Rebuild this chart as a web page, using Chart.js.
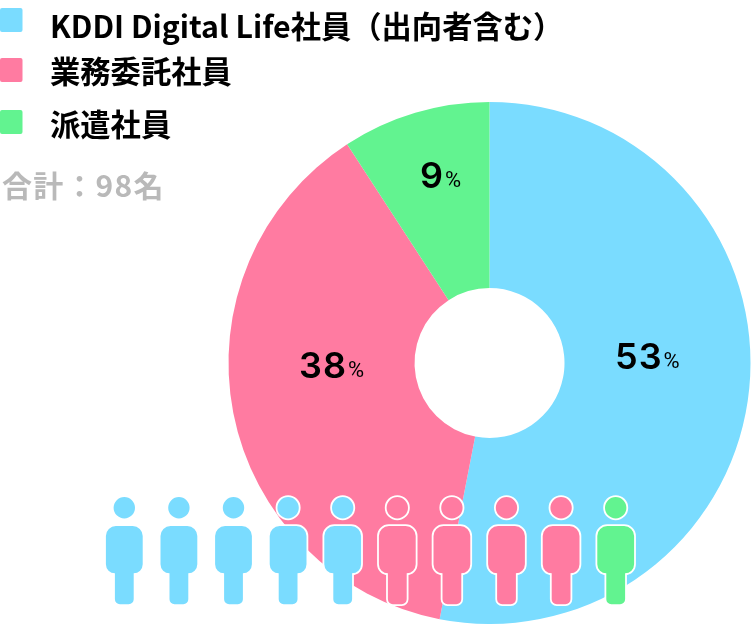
<!DOCTYPE html>
<html lang="ja">
<head>
<meta charset="utf-8">
<title>社員構成</title>
<script src="https://cdn.jsdelivr.net/npm/chart.js@4"></script>
<style>
    html, body { margin: 0; padding: 0; background: #fff; }
    #wrap { width: 751px; height: 624px; position: relative; overflow: hidden; }
</style>
</head>
<body>
<div id="wrap"><canvas id="chart" width="751" height="624"></canvas></div>
<script>
const categories = ['KDDI Digital Life社員（出向者含む）', '業務委託社員', '派遣社員'];
const headcounts = [52, 37, 9];
const percentLabels = ['53', '38', '9'];
const peopleCounts = [5, 4, 1];
const totalLabel = '合計：98名';

const colors = ['#7adcff', '#ff7ba1', '#62f390'];
const jpFont = '"Noto Sans CJK JP", "Noto Sans", sans-serif';

// where things sit on the canvas
const legendRows = [{ box: 8, text: 26 }, { box: 58, text: 71 }, { box: 110, text: 124 }];
const labelAnchors = [{ x: 615, y: 358 }, { x: 299, y: 367 }, { x: 420, y: 177 }];

// one person icon, head + body with leg
function personPath(x) {
    const p = new Path2D();
    p.arc(x, 507.7, 10.7, 0, Math.PI * 2);
    p.closePath();
    p.moveTo(x - 8, 526);
    p.lineTo(x + 8, 526);
    p.arcTo(x + 18.4, 526, x + 18.4, 536, 10);
    p.lineTo(x + 18.4, 564);
    p.arcTo(x + 18.4, 573.3, x + 9.4, 573.3, 9);
    p.lineTo(x + 9.4, 599);
    p.arcTo(x + 9.4, 604.3, x + 4, 604.3, 5);
    p.lineTo(x - 4, 604.3);
    p.arcTo(x - 9.4, 604.3, x - 9.4, 599, 5);
    p.lineTo(x - 9.4, 573.3);
    p.arcTo(x - 18.4, 573.3, x - 18.4, 564, 9);
    p.lineTo(x - 18.4, 536);
    p.arcTo(x - 18.4, 526, x - 8, 526, 10);
    p.closePath();
    return p;
}

const overlay = {
    id: 'overlay',
    afterDraw(chart) {
        const ctx = chart.ctx;
        ctx.save();
        ctx.textBaseline = 'middle';

        // legend
        categories.forEach((name, i) => {
            ctx.fillStyle = colors[i];
            ctx.beginPath();
            ctx.roundRect(0, legendRows[i].box, 22.5, 24, 2);
            ctx.fill();
            ctx.fillStyle = '#000';
            ctx.font = 'bold 30.3px ' + jpFont;
            ctx.fillText(name, 50, legendRows[i].text);
        });

        // total
        ctx.fillStyle = '#b9b9b9';
        ctx.font = 'bold 30px ' + jpFont;
        ctx.letterSpacing = '1.2px';
        ctx.fillText(totalLabel, 2, 186);
        ctx.letterSpacing = '0px';

        // percent labels
        percentLabels.forEach((v, i) => {
            const a = labelAnchors[i];
            ctx.fillStyle = '#000';
            ctx.font = '600 36px Inter, sans-serif';
            ctx.letterSpacing = '1px';
            ctx.fillText(v, a.x, a.y);
            const w = ctx.measureText(v).width;
            ctx.font = '22px Roboto, sans-serif';
            ctx.letterSpacing = '0px';
            ctx.fillText('%', a.x + w + 1, a.y + 4);
        });

        // people row
        let n = 0;
        peopleCounts.forEach((count, i) => {
            for (let k = 0; k < count; k++) {
                const p = personPath(124.3 + n * 54.6);
                ctx.strokeStyle = '#fff';
                ctx.lineWidth = 3.6;
                ctx.stroke(p);
                ctx.fillStyle = colors[i];
                ctx.fill(p);
                n++;
            }
        });
        ctx.restore();
    }
};

new Chart(document.getElementById('chart'), {
    type: 'doughnut',
    data: {
        labels: categories,
        datasets: [{
            data: headcounts,
            backgroundColor: colors,
            borderWidth: 0
        }]
    },
    options: {
        responsive: false,
        animation: false,
        cutout: 75,
        layout: { padding: { left: 228, right: 0, top: 102, bottom: 0 } },
        plugins: { legend: { display: false }, tooltip: { enabled: false } }
    },
    plugins: [overlay]
});
</script>
</body>
</html>
